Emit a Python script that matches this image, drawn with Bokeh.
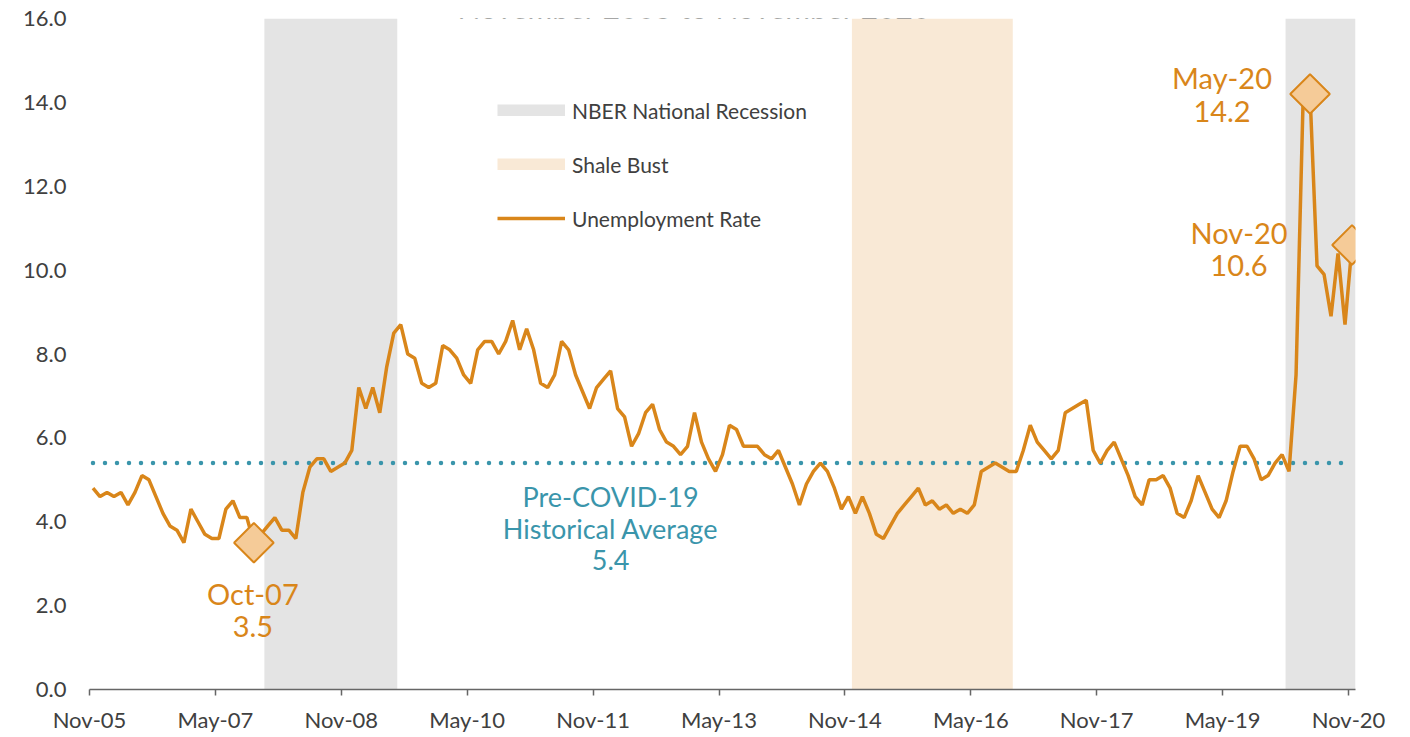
import numpy as np
from bokeh.plotting import figure
from bokeh.models import (FixedTicker, NumeralTickFormatter, Legend, LegendItem,
                          Label, Range1d)
from bokeh.embed import file_html
from bokeh.resources import INLINE

# ---------------- data ----------------
# Monthly unemployment rate, Nov-05 (index 0) to Nov-20 (index 180)
unemployment = [
    4.8, 4.6, 4.7, 4.6, 4.7, 4.4, 4.7, 5.1, 5.0, 4.6, 4.2, 3.9,   # Nov-05..Oct-06
    3.8, 3.5, 4.3, 4.0, 3.7, 3.6, 3.6, 4.3, 4.5, 4.1, 4.1, 3.5,   # Nov-06..Oct-07
    3.7, 3.9, 4.1, 3.8, 3.8, 3.6, 4.7, 5.3, 5.5, 5.5, 5.2, 5.3,   # Nov-07..Oct-08
    5.4, 5.7, 7.2, 6.7, 7.2, 6.6, 7.7, 8.5, 8.7, 8.0, 7.9, 7.3,   # Nov-08..Oct-09
    7.2, 7.3, 8.2, 8.1, 7.9, 7.5, 7.3, 8.1, 8.3, 8.3, 8.0, 8.3,   # Nov-09..Oct-10
    8.8, 8.1, 8.6, 8.1, 7.3, 7.2, 7.5, 8.3, 8.1, 7.5, 7.1, 6.7,   # Nov-10..Oct-11
    7.2, 7.4, 7.6, 6.7, 6.5, 5.8, 6.1, 6.6, 6.8, 6.2, 5.9, 5.8,   # Nov-11..Oct-12
    5.6, 5.8, 6.6, 5.9, 5.5, 5.2, 5.6, 6.3, 6.2, 5.8, 5.8, 5.8,   # Nov-12..Oct-13
    5.6, 5.5, 5.7, 5.3, 4.9, 4.4, 4.9, 5.2, 5.4, 5.2, 4.8, 4.3,   # Nov-13..Oct-14
    4.6, 4.2, 4.6, 4.2, 3.7, 3.6, 3.9, 4.2, 4.4, 4.6, 4.8, 4.4,   # Nov-14..Oct-15
    4.5, 4.3, 4.4, 4.2, 4.3, 4.2, 4.4, 5.2, 5.3, 5.4, 5.3, 5.2,   # Nov-15..Oct-16
    5.2, 5.7, 6.3, 5.9, 5.7, 5.5, 5.7, 6.6, 6.7, 6.8, 6.9, 5.7,   # Nov-16..Oct-17
    5.4, 5.7, 5.9, 5.5, 5.1, 4.6, 4.4, 5.0, 5.0, 5.1, 4.8, 4.2,   # Nov-17..Oct-18
    4.1, 4.5, 5.1, 4.7, 4.3, 4.1, 4.5, 5.2, 5.8, 5.8, 5.5, 5.0,   # Nov-18..Oct-19
    5.1, 5.4, 5.6, 5.2, 7.5, 14.0, 14.2, 10.1, 9.9, 8.9, 10.4, 8.7,  # Nov-19..Oct-20
    10.6,                                                          # Nov-20
]
month_index = list(range(len(unemployment)))

tick_months = [0, 18, 36, 54, 72, 90, 108, 126, 144, 162, 180]
tick_labels = ["Nov-05", "May-07", "Nov-08", "May-10", "Nov-11", "May-13",
               "Nov-14", "May-16", "Nov-17", "May-19", "Nov-20"]
y_ticks = [0, 2, 4, 6, 8, 10, 12, 14, 16]

recession_start = [25, 171]   # Dec-07, Feb-20
recession_end = [43, 180]     # Jun-09, Nov-20
shale_start = [109]           # Dec-14
shale_end = [131]             # Oct-16

historical_avg = 5.4

annot_idx = [23, 174, 180]
annot_month = ["Oct-07", "May-20", "Nov-20"]

title_text = "November 2005 to November 2020"

# ---------------- style ----------------
FONT = "Lato"
ORANGE = "#D9861A"
TEAL = "#3A95AB"
GRAY_TXT = "#404040"
REC_GRAY = "#E4E4E4"
SHALE_BEIGE = "#F9E9D6"
NAN = float("nan")

p = figure(width=1400, height=735, output_backend="svg", toolbar_location=None,
           x_range=Range1d(-0.5, len(unemployment) - 0.5), y_range=Range1d(0, 16),
           min_border_left=89, min_border_right=45, min_border_top=18,
           min_border_bottom=43)
p.outline_line_color = None
p.xgrid.visible = False
p.ygrid.visible = False
p.background_fill_color = "white"
p.border_fill_color = "white"

rec = p.quad(left=[s - 0.5 for s in recession_start], right=[e + 0.5 for e in recession_end],
             bottom=0, top=16, fill_color=REC_GRAY, line_color=None)
shale = p.quad(left=[s - 0.5 for s in shale_start], right=[e + 0.5 for e in shale_end],
               bottom=0, top=16, fill_color=SHALE_BEIGE, line_color=None)

# full-size legend swatches (they draw nothing in the plot area)
rec_swatch = p.line(x=[0, 1], y=[NAN, NAN], line_color=REC_GRAY, line_width=12,
                    line_cap="butt")
shale_swatch = p.line(x=[0, 1], y=[NAN, NAN], line_color=SHALE_BEIGE, line_width=12,
                      line_cap="butt")

p.line(x=[month_index[0], month_index[-1]], y=[historical_avg, historical_avg],
       line_color=TEAL, line_width=4.5, line_dash="0 12", line_cap="round")

ln = p.line(x=month_index, y=unemployment, line_color=ORANGE, line_width=3.5)

p.scatter(x=annot_idx, y=[unemployment[i] for i in annot_idx], marker="square",
          size=28, angle=np.pi / 4, fill_color="#F5CB98", line_color=ORANGE,
          line_width=2)

# axes
xa = p.xaxis[0]
xa.ticker = FixedTicker(ticks=[m - 0.5 for m in tick_months])
xa.major_label_overrides = {m - 0.5: lab for m, lab in zip(tick_months, tick_labels)}
xa.minor_tick_line_color = None
xa.major_tick_in = 0
xa.major_tick_out = 6
xa.axis_line_color = "#666666"
xa.axis_line_width = 1.5
xa.major_tick_line_color = "#666666"
xa.major_tick_line_width = 1.5
xa.major_label_standoff = 10
xa.major_label_text_font = FONT
xa.major_label_text_font_size = "22px"
xa.major_label_text_color = GRAY_TXT

ya = p.yaxis[0]
ya.ticker = FixedTicker(ticks=y_ticks)
ya.formatter = NumeralTickFormatter(format="0.0")
ya.axis_line_color = None
ya.major_tick_line_color = None
ya.minor_tick_line_color = None
ya.major_tick_in = 0
ya.major_tick_out = 0
ya.major_label_standoff = 23
ya.major_label_text_font = FONT
ya.major_label_text_font_size = "22px"
ya.major_label_text_color = GRAY_TXT

# legend
legend = Legend(items=[LegendItem(label="NBER National Recession", renderers=[rec, rec_swatch]),
                       LegendItem(label="Shale Bust", renderers=[shale, shale_swatch]),
                       LegendItem(label="Unemployment Rate", renderers=[ln])],
                location=(408, 458), orientation="vertical",
                background_fill_alpha=0, border_line_color=None,
                padding=0, margin=0, glyph_width=68, glyph_height=12,
                label_standoff=7, spacing=28, label_height=26,
                label_text_font=FONT, label_text_font_size="21px",
                label_text_color=GRAY_TXT)
p.add_layout(legend)

# annotations for highlighted points
offsets = [(-1, -51, -84), (-88, 16, -18), (-113, 12, -21)]
for (i, m), (dx, dy1, dy2) in zip(zip(annot_idx, annot_month), offsets):
    v = unemployment[i]
    for txt, dy in ((m, dy1), (f"{v:.1f}", dy2)):
        p.add_layout(Label(x=i, y=v, text=txt, x_offset=dx, y_offset=dy,
                           text_align="center", text_baseline="alphabetic",
                           text_font=FONT, text_font_size="29px", text_color=ORANGE))

avg_lines = ["Pre-COVID-19", "Historical Average", f"{historical_avg:.1f}"]
for txt, dy in zip(avg_lines, (-33, -65, -97)):
    p.add_layout(Label(x=74, y=historical_avg, text=txt, y_offset=dy,
                       text_align="center", text_baseline="alphabetic",
                       text_font=FONT, text_font_size="27px", text_color=TEAL))

# title (cut off at the top, as in the source)
p.add_layout(Label(x=86, y=16, text=title_text, y_offset=12, text_align="center",
                   text_baseline="alphabetic", text_font=FONT,
                   text_font_size="30px", text_color="#595959"))

open("out.html", "w").write(file_html(p, INLINE))
